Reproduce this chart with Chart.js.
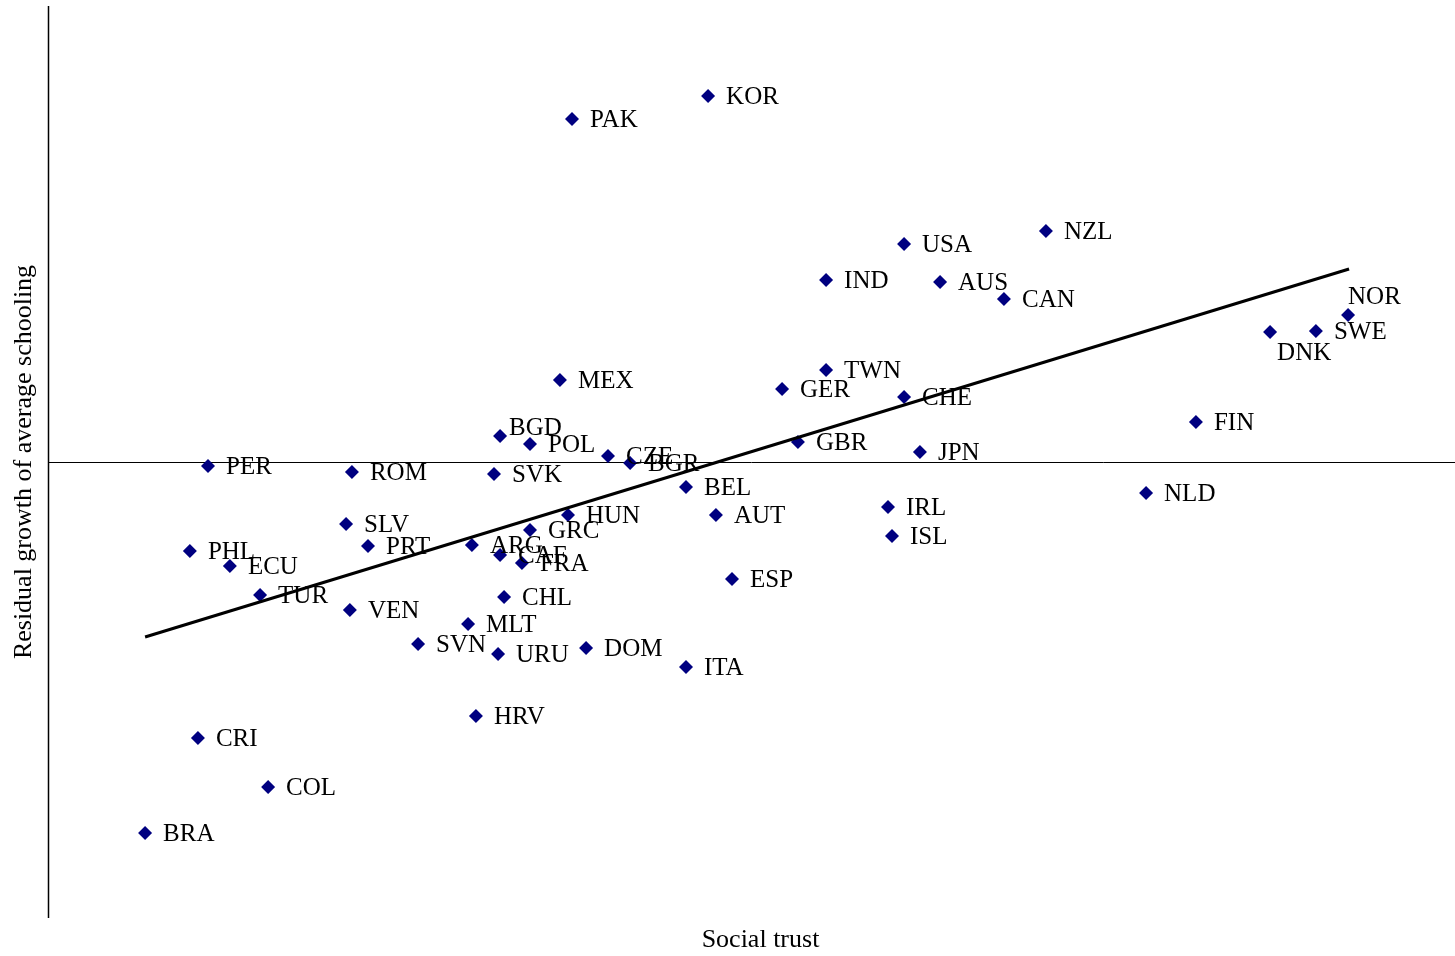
<!DOCTYPE html>
<html>
<head>
<meta charset="utf-8">
<script src="https://cdn.jsdelivr.net/npm/chart.js@4/dist/chart.umd.min.js"></script>
<style>
  body { margin: 0; background: #fff; }
  canvas { display: block; }
</style>
</head>
<body>
<canvas id="myChart" width="1455" height="956"></canvas>
<script>
// country codes, social trust (x) and residual schooling growth (y)
const countries = ['KOR','PAK','USA','NZL','IND','AUS','CAN','NOR','SWE','DNK',
  'MEX','TWN','GER','CHE','FIN','BGD','GBR','POL','JPN','CZE',
  'BGR','PER','ROM','SVK','BEL','NLD','IRL','HUN','AUT','SLV',
  'GRC','ISL','PRT','ARG','PHL','CAF','FRA','ECU','ESP','TUR',
  'CHL','VEN','MLT','SVN','DOM','URU','ITA','HRV','CRI','COL','BRA'];
const trust = [32.84,26.07,42.59,49.65,38.71,44.38,47.56,64.68,63.08,60.80,
  25.47,38.71,36.52,42.59,57.11,22.49,37.31,23.98,43.38,27.86,
  28.96,7.96,15.12,22.19,31.74,54.63,41.79,25.87,33.23,14.83,
  23.98,41.99,15.92,21.09,7.06,22.49,23.58,9.05,34.03,10.55,
  22.69,15.02,20.90,18.41,26.77,22.39,31.74,21.29,7.46,10.95,4.83];
const residual = [3.66,3.43,2.18,2.31,1.82,1.80,1.63,1.47,1.31,1.30,
  0.82,0.92,0.73,0.65,0.40,0.26,0.20,0.18,0.10,0.06,
  -0.01,-0.04,-0.10,-0.12,-0.25,-0.31,-0.45,-0.53,-0.53,-0.62,
  -0.68,-0.74,-0.84,-0.83,-0.89,-0.93,-1.01,-1.04,-1.17,-1.33,
  -1.35,-1.48,-1.62,-1.82,-1.86,-1.92,-2.05,-2.54,-2.76,-3.25,-3.71];

// fitted line, read from its two ends
const fitX = [4.83, 64.73];
const fitY = [-1.75, 1.93];

// labels that do not sit to the right of their point
const labelShift = { NOR: [0, -18], DNK: [7, 21], BGD: [9, -8] };

const LABEL_FONT = '25px "Liberation Serif", "Times New Roman", serif';
const TITLE_FONT = '26px "Liberation Serif", "Times New Roman", serif';

const labelPlugin = {
  id: 'labels',
  afterDatasetsDraw(chart) {
    const ctx = chart.ctx;
    const meta = chart.getDatasetMeta(1);
    ctx.save();
    ctx.font = LABEL_FONT;
    ctx.fillStyle = '#000';
    ctx.textBaseline = 'middle';
    ctx.textAlign = 'left';
    meta.data.forEach((pt, i) => {
      const name = countries[i];
      const s = labelShift[name] || [18, 1];
      ctx.fillText(name, pt.x + s[0], pt.y + s[1]);
    });
    ctx.restore();
  }
};

const axesPlugin = {
  id: 'axes',
  beforeDatasetsDraw(chart) {
    const ctx = chart.ctx;
    const a = chart.chartArea;
    const y0 = chart.scales.y.getPixelForValue(0);
    ctx.save();
    ctx.strokeStyle = '#000';
    ctx.lineWidth = 1;
    ctx.beginPath();
    ctx.moveTo(a.left, y0 + 0.5);
    ctx.lineTo(a.right, y0 + 0.5);
    ctx.stroke();
    ctx.lineWidth = 1.5;
    ctx.beginPath();
    ctx.moveTo(a.left + 0.5, a.top);
    ctx.lineTo(a.left + 0.5, a.bottom);
    ctx.stroke();

    ctx.font = TITLE_FONT;
    ctx.fillStyle = '#000';
    ctx.textAlign = 'center';
    ctx.textBaseline = 'middle';
    ctx.fillText('Social trust', (a.left + a.right) / 2 + 9, a.bottom + 22);
    ctx.translate(24, (a.top + a.bottom) / 2);
    ctx.rotate(-Math.PI / 2);
    ctx.fillText('Residual growth of average schooling', 0, 0);
    ctx.restore();
  }
};

const ctx = document.getElementById('myChart').getContext('2d');
new Chart(ctx, {
  type: 'scatter',
  data: {
    datasets: [{
      type: 'line',
      data: fitX.map((x, i) => ({ x: x, y: fitY[i] })),
      borderColor: '#000',
      borderWidth: 3,
      pointRadius: 0,
      fill: false,
      clip: false
    }, {
      data: trust.map((x, i) => ({ x: x, y: residual[i] })),
      pointStyle: 'rectRot',
      pointRadius: 7,
      pointHoverRadius: 7,
      backgroundColor: '#000080',
      borderColor: '#000080',
      borderWidth: 0,
      clip: false
    }]
  },
  options: {
    responsive: false,
    animation: false,
    layout: { autoPadding: false, padding: { left: 48, right: 0, top: 6, bottom: 38 } },
    plugins: {
      legend: { display: false },
      tooltip: { enabled: false }
    },
    scales: {
      x: { type: 'linear', display: false, min: 0, max: 70 },
      y: { type: 'linear', display: false, min: -4.56, max: 4.56 }
    }
  },
  plugins: [axesPlugin, labelPlugin]
});
</script>
</body>
</html>
